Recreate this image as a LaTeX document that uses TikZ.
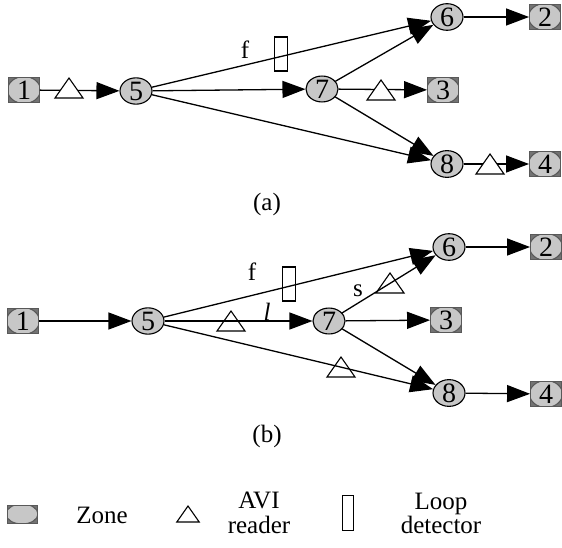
\documentclass[tikz,border=0pt]{standalone}
\usepackage{fontspec}
\setmainfont{Liberation Serif}
\usetikzlibrary{shapes.geometric,arrows.meta}
\definecolor{zonegray}{gray}{0.78}
\tikzset{
  zone/.style={ellipse,draw,fill=zonegray,line width=1.1pt,
    minimum width=32pt,minimum height=23pt,inner sep=0pt,
    font=\fontsize{28}{30}\selectfont},
  term/.style={rectangle,draw=black!65,fill=black!55,line width=0.9pt,
    minimum width=31pt,minimum height=25pt,inner sep=0pt,
    font=\fontsize{28}{30}\selectfont,
    path picture={\draw[fill=zonegray,line width=1.1pt]
      (path picture bounding box.center) ellipse [x radius=16.5pt,y radius=13.5pt];}},
  termkey/.style={rectangle,draw=black!65,fill=black!55,line width=0.9pt,
    minimum width=30pt,minimum height=18pt,inner sep=0pt,
    path picture={\draw[fill=zonegray,line width=1.1pt]
      (path picture bounding box.center) ellipse [x radius=16pt,y radius=10pt];}},
  link/.style={line width=1.3pt,-{Triangle[length=23pt,width=17pt]}},
  loopdet/.style={rectangle,draw,line width=1.1pt,minimum width=13pt,
    minimum height=34pt,inner sep=0pt},
  lbl/.style={inner sep=0pt},
  avi/.pic={\draw[line width=1.1pt,pic actions] (-14,10) -- (14,10) -- (0,-10) -- cycle;}
}
\begin{document}
\begin{tikzpicture}[x=1pt,y=-1pt,font=\fontsize{25}{28}\selectfont]
\path[use as bounding box] (0,0) rectangle (562,548);

% ---------- (a) ----------
\node[term] (n1a) at (24,90) {1};
\node[zone] (n5a) at (136,91) {5};
\node[zone] (n6a) at (447,17) {6};
\node[term] (n2a) at (545,17) {2};
\node[zone] (n7a) at (322,89) {7};
\node[term] (n3a) at (443,90) {3};
\node[zone] (n8a) at (447,164) {8};
\node[term] (n4a) at (545,164) {4};

\draw[link] (n1a) -- (n5a);
\draw[link] (n5a) -- (n6a);
\draw[link] (n5a) -- (n7a);
\draw[link] (n5a) -- (n8a);
\draw[link] (n7a) -- (n6a);
\draw[link] (n7a) -- (n3a);
\draw[link] (n7a) -- (n8a);
\draw[link] (n6a) -- (n2a);
\draw[link] (n8a) -- (n4a);

\pic[fill=white] at (69,88) {avi};
\pic[fill=white] at (381,90) {avi};
\pic[fill=white] at (490,164) {avi};
\node[loopdet] (lda) at (281,54) {};
\node[lbl] (fa) at (245,50) {f};
\node[lbl] (capa) at (267,204) {(a)};

% ---------- (b) ----------
\node[term] (n1b) at (23,321) {1};
\node[zone] (n5b) at (148,321) {5};
\node[zone] (n6b) at (449,247) {6};
\node[term] (n2b) at (546,247) {2};
\node[zone] (n7b) at (329,321) {7};
\node[term] (n3b) at (446,320) {3};
\node[zone] (n8b) at (449,393) {8};
\node[term] (n4b) at (546,394) {4};

\draw[link] (n1b) -- (n5b);
\draw[link] (n5b) -- (n6b);
\draw[link] (n5b) -- (n7b);
\draw[link] (n5b) -- (n8b);
\draw[link] (n7b) -- (n6b);
\draw[link] (n7b) -- (n3b);
\draw[link] (n7b) -- (n8b);
\draw[link] (n6b) -- (n2b);
\draw[link] (n8b) -- (n4b);

\pic at (231,321) {avi};
\pic at (390,283) {avi};
\pic at (341,367) {avi};
\node[loopdet] (ldb) at (289,284) {};
\node[lbl] (fb) at (252,272) {f};
\node[lbl] (lb) at (267,312) {\textit{l}};
\node[lbl] (sb) at (358,291) {s};
\node[lbl] (capb) at (267,436) {(b)};

% ---------- legend ----------
\node[termkey] (kzone) at (22,514) {};
\node[lbl] (kzonetxt) at (102,515) {Zone};
\pic[scale=0.8] at (188,514) {avi};
\node[lbl,anchor=base] (kavi1) at (259,508) {AVI};
\node[lbl,anchor=base] (kavi2) at (259,533) {reader};
\node[loopdet,minimum width=11pt,minimum height=35pt] (kloop) at (348,513) {};
\node[lbl,anchor=base] (kloop1) at (441,509) {Loop};
\node[lbl,anchor=base] (kloop2) at (441,533) {detector};
\end{tikzpicture}
\end{document}
